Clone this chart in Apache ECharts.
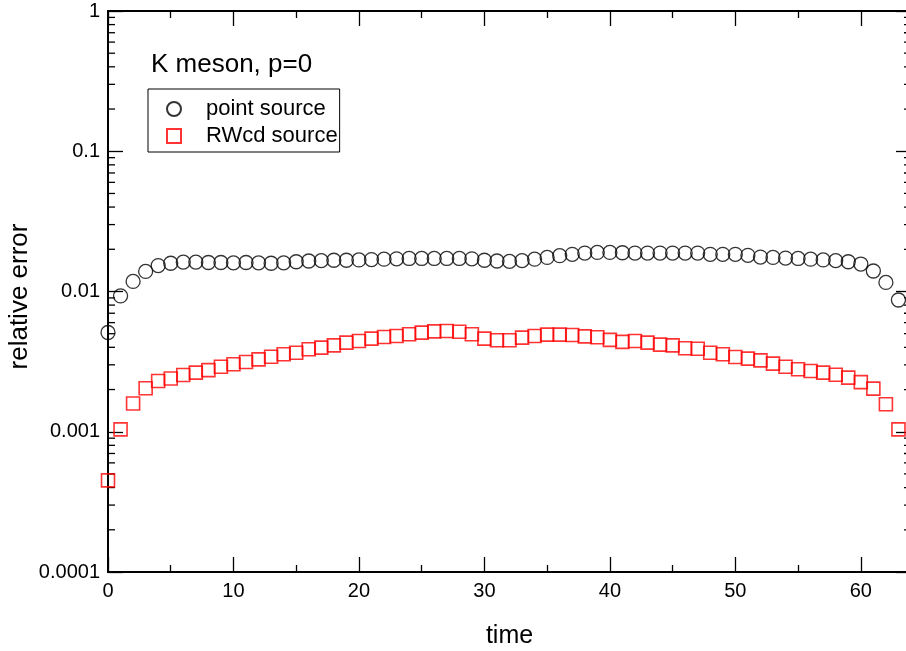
<!DOCTYPE html>
<html>
<head>
<meta charset="utf-8">
<script src="https://cdn.jsdelivr.net/npm/echarts@6/dist/echarts.min.js"></script>
<style>html,body{margin:0;padding:0;background:#fff}#c{width:906px;height:651px}</style>
</head>
<body>
<div id="c"></div>
<script>
// ---- data ----
const times = Array.from({length: 64}, (_, i) => i);
const pointSource = [
  0.0051, 0.0093, 0.0118, 0.0139, 0.0153, 0.0159, 0.0162, 0.0162, 0.0161, 0.0161,
  0.0160, 0.0161, 0.0160, 0.0159, 0.0160, 0.0163, 0.0165, 0.0166, 0.0167, 0.0167,
  0.0168, 0.0169, 0.0170, 0.0171, 0.0172, 0.0172, 0.0172, 0.0172, 0.0172, 0.0171,
  0.0167, 0.0165, 0.0164, 0.0166, 0.0170, 0.0175, 0.0180, 0.0184, 0.0188, 0.0190,
  0.0190, 0.0189, 0.0188, 0.0188, 0.0188, 0.0188, 0.0188, 0.0188, 0.0184, 0.0184,
  0.0184, 0.0181, 0.0176, 0.0175, 0.0173, 0.0172, 0.0170, 0.0168, 0.0166, 0.0163,
  0.0157, 0.0140, 0.0116, 0.0087
];
const rwcdSource = [
  0.00045, 0.00104, 0.00159, 0.00204, 0.00230, 0.00240, 0.00254, 0.00264, 0.00275, 0.00291,
  0.00303, 0.00314, 0.00328, 0.00343, 0.00357, 0.00366, 0.00387, 0.00398, 0.00413, 0.00432,
  0.00444, 0.00461, 0.00474, 0.00482, 0.00496, 0.00509, 0.00520, 0.00523, 0.00516, 0.00496,
  0.00461, 0.00449, 0.00449, 0.00469, 0.00482, 0.00493, 0.00493, 0.00489, 0.00479, 0.00472,
  0.00452, 0.00437, 0.00444, 0.00432, 0.00418, 0.00413, 0.00394, 0.00391, 0.00366, 0.00357,
  0.00341, 0.00332, 0.00323, 0.00306, 0.00291, 0.00279, 0.00271, 0.00264, 0.00255, 0.00243,
  0.00226, 0.00203, 0.00157, 0.00104
];
const yTickLabels = ['0.0001', '0.001', '0.01', '0.1', '1'];
const xTickLabels = ['0', '10', '20', '30', '40', '50', '60'];
const minorTickMultipliers = [2, 3, 4, 5, 6, 7, 8, 9];
const decades = [0.0001, 0.001, 0.01, 0.1];
const seriesNames = ['point source', 'RWcd source'];
const titleText = 'K meson, p=0';
const xName = 'time';
const yName = 'relative error';
// ---------------

const X_MIN = 0, X_MAX = 64;
const FONT = '"Liberation Sans", Arial, Helvetica, sans-serif';
const minorVals = [];
decades.forEach(d => minorTickMultipliers.forEach(m => minorVals.push(d * m)));

const chart = echarts.init(document.getElementById('c'), null, {renderer: 'canvas'});

function xAxisCfg(pos, showLabels) {
  return {
    type: 'value', position: pos, min: X_MIN, max: X_MAX, interval: 10,
    axisLine: {show: true, onZero: false, lineStyle: {color: '#000', width: 2}},
    axisTick: {show: true, inside: true, length: 15, lineStyle: {color: '#000', width: 1.3}},
    minorTick: {show: true, splitNumber: 2, length: 7, lineStyle: {color: '#000', width: 1.3}},
    splitLine: {show: false}, minorSplitLine: {show: false},
    axisLabel: {
      show: showLabels, showMaxLabel: false, margin: 9, color: '#000', fontSize: 20, fontFamily: FONT,
      formatter: v => { const i = xTickLabels.indexOf(String(Math.round(v))); return (i >= 0 && Math.abs(v - Math.round(v)) < 1e-6) ? xTickLabels[i] : ''; }
    }
  };
}
function yAxisCfg(pos, showLabels) {
  return {
    type: 'log', logBase: 10, position: pos, min: 0.0001, max: 1,
    axisLine: {show: true, onZero: false, lineStyle: {color: '#000', width: 2}},
    axisTick: {show: true, inside: true, length: 15, lineStyle: {color: '#000', width: 1.3}},
    minorTick: {show: false},
    splitLine: {show: false},
    axisLabel: {
      show: showLabels, margin: 8, color: '#000', fontSize: 20, fontFamily: FONT,
      formatter: v => { const e = Math.round(Math.log10(v)); return yTickLabels[e + 4] || ''; }
    }
  };
}

const xBottom = xAxisCfg('bottom', true);
xBottom.name = xName; xBottom.nameLocation = 'middle'; xBottom.nameGap = 52;
xBottom.nameMoveOverlap = false;
xBottom.nameTextStyle = {color: '#000', fontSize: 25, fontFamily: FONT};
const yLeft = yAxisCfg('left', true);
yLeft.name = yName; yLeft.nameLocation = 'middle'; yLeft.nameGap = 75;
yLeft.nameMoveOverlap = false;
yLeft.nameTextStyle = {color: '#000', fontSize: 26, fontFamily: FONT, padding: [0, 10, 0, 0]};

const option = {
  animation: false,
  backgroundColor: '#fff',
  textStyle: {fontFamily: FONT},
  grid: {left: 108, width: 803, top: 11, height: 561, containLabel: false, outerBoundsMode: 'none'},
  title: {
    text: titleText, left: 146, top: 47,
    textStyle: {color: '#000', fontSize: 26, fontWeight: 'normal', fontFamily: FONT}
  },
  legend: {
    data: seriesNames, orient: 'vertical', left: 148, top: 89,
    padding: [9, 2, 5, 18], itemGap: 5, itemWidth: 14, itemHeight: 14,
    borderColor: '#000', borderWidth: 1, backgroundColor: '#fff',
    textStyle: {color: '#000', fontSize: 22, fontFamily: FONT, padding: [0, 0, 0, 20]},
    selectedMode: false
  },
  xAxis: [xBottom, xAxisCfg('top', false)],
  yAxis: [yLeft, yAxisCfg('right', false)],
  series: [
    {
      name: seriesNames[0], type: 'scatter', xAxisIndex: 0, yAxisIndex: 0,
      symbol: 'circle', symbolSize: 14, clip: false,
      itemStyle: {color: 'rgba(255,255,255,0)', borderColor: '#000', borderWidth: 1.3},
      data: times.map((t, i) => [t, pointSource[i]])
    },
    {
      name: seriesNames[1], type: 'scatter', xAxisIndex: 0, yAxisIndex: 0,
      symbol: 'rect', symbolSize: 13, clip: false,
      itemStyle: {color: 'rgba(255,255,255,0)', borderColor: '#ff0000', borderWidth: 1.6},
      data: times.map((t, i) => [t, rwcdSource[i]])
    },
    {
      name: 'minorTicks', type: 'custom', xAxisIndex: 0, yAxisIndex: 0, silent: true, clip: false,
      data: minorVals.map(v => [X_MIN, v]),
      renderItem: (params, api) => {
        const v = api.value(1);
        const l = api.coord([X_MIN, v]);
        const r = api.coord([X_MAX, v]);
        return {type: 'group', children: [
          {type: 'line', shape: {x1: l[0], y1: l[1], x2: l[0] + 7, y2: l[1]}, style: {stroke: '#000', lineWidth: 1.3}},
          {type: 'line', shape: {x1: r[0], y1: r[1], x2: r[0] - 7, y2: r[1]}, style: {stroke: '#000', lineWidth: 1.3}}
        ]};
      }
    }
  ]
};
chart.setOption(option);
</script>
</body>
</html>
